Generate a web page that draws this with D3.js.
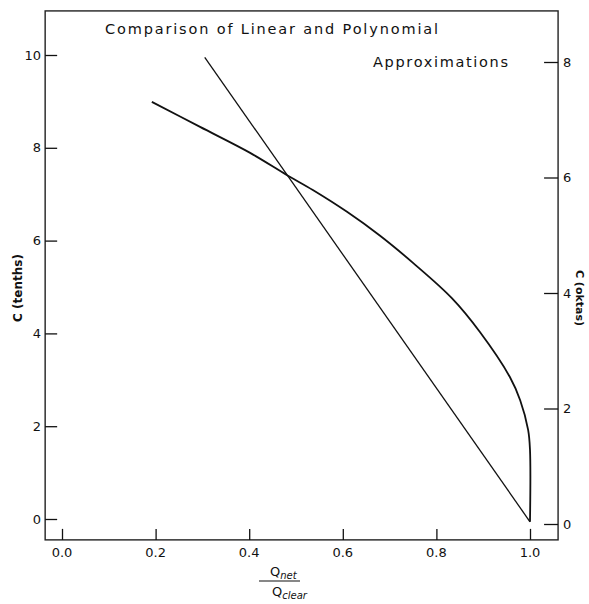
<!DOCTYPE html>
<html>
<head>
<meta charset="utf-8">
<script src="https://cdn.jsdelivr.net/npm/d3@7"></script>
<style>
  html, body { margin: 0; padding: 0; background: #fff; }
  svg { display: block; font-family: "DejaVu Sans", sans-serif; }
</style>
</head>
<body>
<svg id="chart" width="589" height="604"></svg>
<script>
// Q_net / Q_clear ticks
var xTicks = [0, 0.2, 0.4, 0.6, 0.8, 1.0];
var xTickLabels = ['0.0', '0.2', '0.4', '0.6', '0.8', '1.0'];
var tenthsTicks = [0, 2, 4, 6, 8, 10];
var oktaTicks = [0, 2, 4, 6, 8];

// linear approximation
var linearQ = [0.305, 1.0];
var linearC = [9.95, -0.06];

// polynomial approximation
var polyQ = [0.192, 0.295, 0.402, 0.481, 0.536, 0.609, 0.679, 0.750, 0.833, 0.893, 0.957, 0.979, 0.996, 1.0, 1.0];
var polyC = [8.99, 8.45, 7.89, 7.41, 7.09, 6.62, 6.11, 5.52, 4.76, 4.03, 3.06, 2.56, 1.92, 1.49, -0.06];

(function () {
  'use strict';

  var ink = '#111';
  var svg = d3.select('#chart');

  var x = d3.scaleLinear().domain([0, 1]).range([62, 530]);
  var y = d3.scaleLinear().domain([0, 10]).range([519, 55]);
  var yOkta = d3.scaleLinear().domain([0, 8]).range([524, 62]);

  var frame = {
    left: x(-0.036),
    right: x(1.06),
    top: y(10.95),
    bottom: y(-0.45)
  };

  // frame of the plot
  svg.append('rect')
    .attr('x', frame.left)
    .attr('y', frame.top)
    .attr('width', frame.right - frame.left)
    .attr('height', frame.bottom - frame.top)
    .attr('fill', 'none')
    .attr('stroke', '#222')
    .attr('stroke-width', 1.4);

  // left axis, ticks inward
  var left = svg.append('g')
    .attr('transform', 'translate(' + frame.left + ',0)')
    .call(d3.axisRight(y).tickValues(tenthsTicks).tickSize(12).tickFormat(''));

  left.select('.domain').remove();
  left.selectAll('line').attr('stroke', ink).attr('stroke-width', 1.3);

  svg.append('g').selectAll('text')
    .data(tenthsTicks)
    .join('text')
    .attr('x', frame.left - 4)
    .attr('y', function (d) { return y(d); })
    .attr('dy', '0.36em')
    .attr('text-anchor', 'end')
    .attr('font-size', 13)
    .attr('fill', ink)
    .text(function (d) { return d; });

  // right axis (oktas), ticks inward
  var right = svg.append('g')
    .attr('transform', 'translate(' + frame.right + ',0)')
    .call(d3.axisLeft(yOkta).tickValues(oktaTicks).tickSize(14).tickFormat(''));

  right.select('.domain').remove();
  right.selectAll('line').attr('stroke', ink).attr('stroke-width', 1.3);

  svg.append('g').selectAll('text')
    .data(oktaTicks)
    .join('text')
    .attr('x', frame.right + 5)
    .attr('y', function (d) { return yOkta(d); })
    .attr('dy', '0.36em')
    .attr('font-size', 13)
    .attr('fill', ink)
    .text(function (d) { return d; });

  // bottom axis, ticks pointing up
  var bottom = svg.append('g')
    .attr('transform', 'translate(0,' + frame.bottom + ')')
    .call(d3.axisTop(x).tickValues(xTicks).tickSize(11).tickFormat(''));

  bottom.select('.domain').remove();
  bottom.selectAll('line').attr('stroke', ink).attr('stroke-width', 1.3);

  svg.append('g').selectAll('text')
    .data(xTicks)
    .join('text')
    .attr('x', function (d) { return x(d); })
    .attr('y', frame.bottom + 17)
    .attr('text-anchor', 'middle')
    .attr('font-size', 13)
    .attr('fill', ink)
    .text(function (d, i) { return xTickLabels[i]; });

  // curves
  var line = d3.line()
    .x(function (d) { return x(d[0]); })
    .y(function (d) { return y(d[1]); });

  svg.append('path')
    .datum(d3.zip(linearQ, linearC))
    .attr('d', line)
    .attr('fill', 'none')
    .attr('stroke', ink)
    .attr('stroke-width', 1.3);

  svg.append('path')
    .datum(d3.zip(polyQ, polyC))
    .attr('d', line.curve(d3.curveCatmullRom.alpha(0.5)))
    .attr('fill', 'none')
    .attr('stroke', ink)
    .attr('stroke-width', 1.8)
    .attr('stroke-linejoin', 'round');

  // title
  svg.append('text')
    .attr('x', 105)
    .attr('y', 34)
    .attr('font-size', 14.5)
    .attr('textLength', 333)
    .attr('lengthAdjust', 'spacing')
    .attr('fill', ink)
    .text('Comparison of Linear and Polynomial');

  svg.append('text')
    .attr('x', 373)
    .attr('y', 67)
    .attr('font-size', 14.5)
    .attr('textLength', 135)
    .attr('lengthAdjust', 'spacing')
    .attr('fill', ink)
    .text('Approximations');

  // axis titles
  svg.append('text')
    .attr('transform', 'translate(22,288) rotate(-90)')
    .attr('text-anchor', 'middle')
    .attr('font-size', 12)
    .attr('font-weight', 'bold')
    .attr('fill', ink)
    .text('C (tenths)');

  svg.append('text')
    .attr('transform', 'translate(576,298) rotate(90)')
    .attr('text-anchor', 'middle')
    .attr('font-size', 11)
    .attr('font-weight', 'bold')
    .attr('fill', ink)
    .text('C (oktas)');

  // Q_net / Q_clear fraction
  var frac = svg.append('g').attr('fill', ink);

  var num = frac.append('text')
    .attr('x', 270)
    .attr('y', 576)
    .attr('font-size', 13);
  num.append('tspan').text('Q');
  num.append('tspan').attr('dy', 3).attr('font-size', 10).attr('font-style', 'italic').text('net');

  frac.append('line')
    .attr('x1', 259)
    .attr('x2', 300)
    .attr('y1', 581)
    .attr('y2', 581)
    .attr('stroke', ink)
    .attr('stroke-width', 1.2);

  var den = frac.append('text')
    .attr('x', 272)
    .attr('y', 596)
    .attr('font-size', 13);
  den.append('tspan').text('Q');
  den.append('tspan').attr('dy', 3).attr('font-size', 10).attr('font-style', 'italic').text('clear');
}());
</script>
</body>
</html>
